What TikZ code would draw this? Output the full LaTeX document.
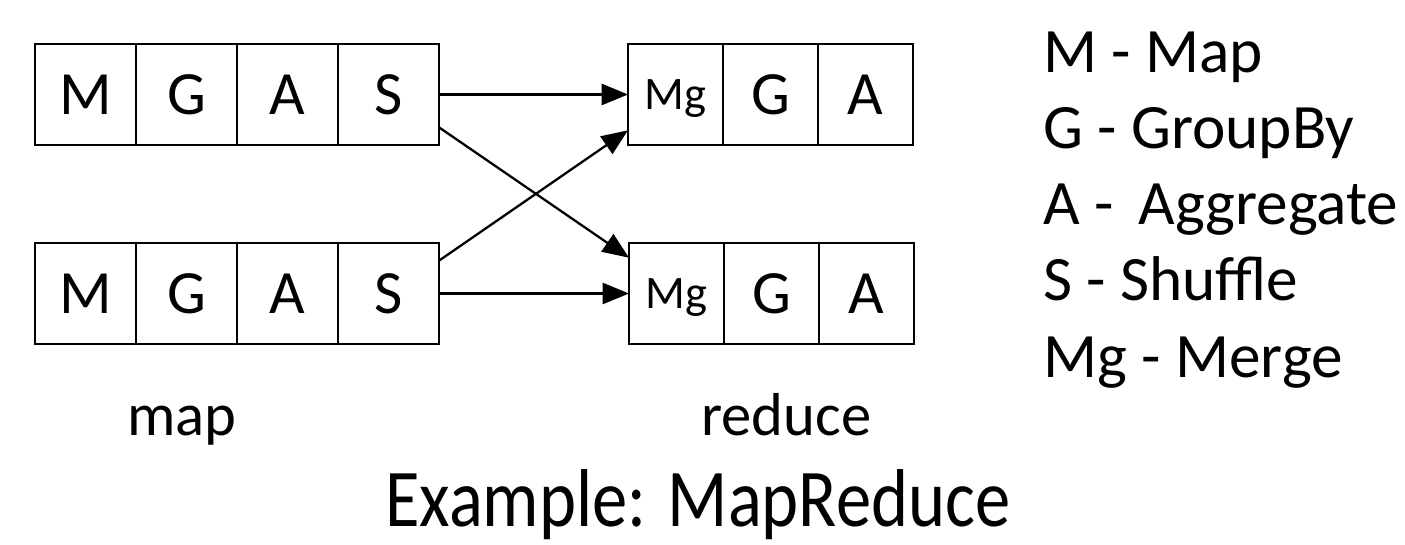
\documentclass[tikz,border=0pt]{standalone}
\usepackage{fontspec}
\setmainfont{Carlito}
\usetikzlibrary{positioning}
\usetikzlibrary{arrows.meta}

\begin{document}
\begin{tikzpicture}[x=0.02cm, y=-0.02cm,
	cell/.style={draw, line width=1.3pt, inner sep=0pt, outer sep=0pt, minimum width=2.02cm, minimum height=2.02cm, font=\fontsize{35}{42}\selectfont},
	rcell/.style={cell, minimum width=1.9cm},
	small/.style={text depth=0pt, font=\fontsize{26.5}{32}\selectfont},
	label/.style={anchor=base west, inner sep=0pt, font=\fontsize{34.5}{41}\selectfont},
	key/.style={label, font=\fontsize{36}{43}\selectfont},
	flow/.style={line width=1.3pt, -{Triangle[length=15pt, width=12pt]}}]
	\useasboundingbox (0,0) rectangle (1405,544);
	% map side
	\node[cell] (m1) at (85.5,94.5) {M};
	\node[cell, right=0pt of m1] (g1) {G};
	\node[cell, right=0pt of g1] (a1) {A};
	\node[cell, right=0pt of a1] (s1) {S};
	\node[cell] (m2) at (85.5,293.5) {M};
	\node[cell, right=0pt of m2] (g2) {G};
	\node[cell, right=0pt of g2] (a2) {A};
	\node[cell, right=0pt of a2] (s2) {S};
	% reduce side
	\node[rcell, small] (mg1) at (675.5,94.5) {Mg};
	\node[rcell, right=0pt of mg1] (rg1) {G};
	\node[rcell, right=0pt of rg1] (ra1) {A};
	\node[rcell, small] (mg2) at (676.5,293.5) {Mg};
	\node[rcell, right=0pt of mg2] (rg2) {G};
	\node[rcell, right=0pt of rg2] (ra2) {A};
	% shuffle
	\draw[flow] (s1) -- (mg1);
	\draw[flow] (s1.-33.6) -- (mg2.143);
	\draw[flow] (s2.33.6) -- (mg1.217);
	\draw[flow] (s2) -- (mg2);
	% captions
	\node[label] (mapl) at (127,435) {map};
	\node[label] (redl) at (701,435) {reduce};
	\node[label, font=\fontsize{46.7}{56}\selectfont] (title) at (385,526) {\scalebox{0.86}[1]{Example: MapReduce}};
	% legend
	\node[key] (k1) at (1043,72) {M - Map};
	\node[key] (k2) at (1043,148) {G - GroupBy};
	\node[key] (k3) at (1043,224) {A -\, Aggregate};
	\node[key] (k4) at (1043,300) {S - Shuffle};
	\node[key] (k5) at (1043,377) {Mg - Merge};
\end{tikzpicture}
\end{document}
